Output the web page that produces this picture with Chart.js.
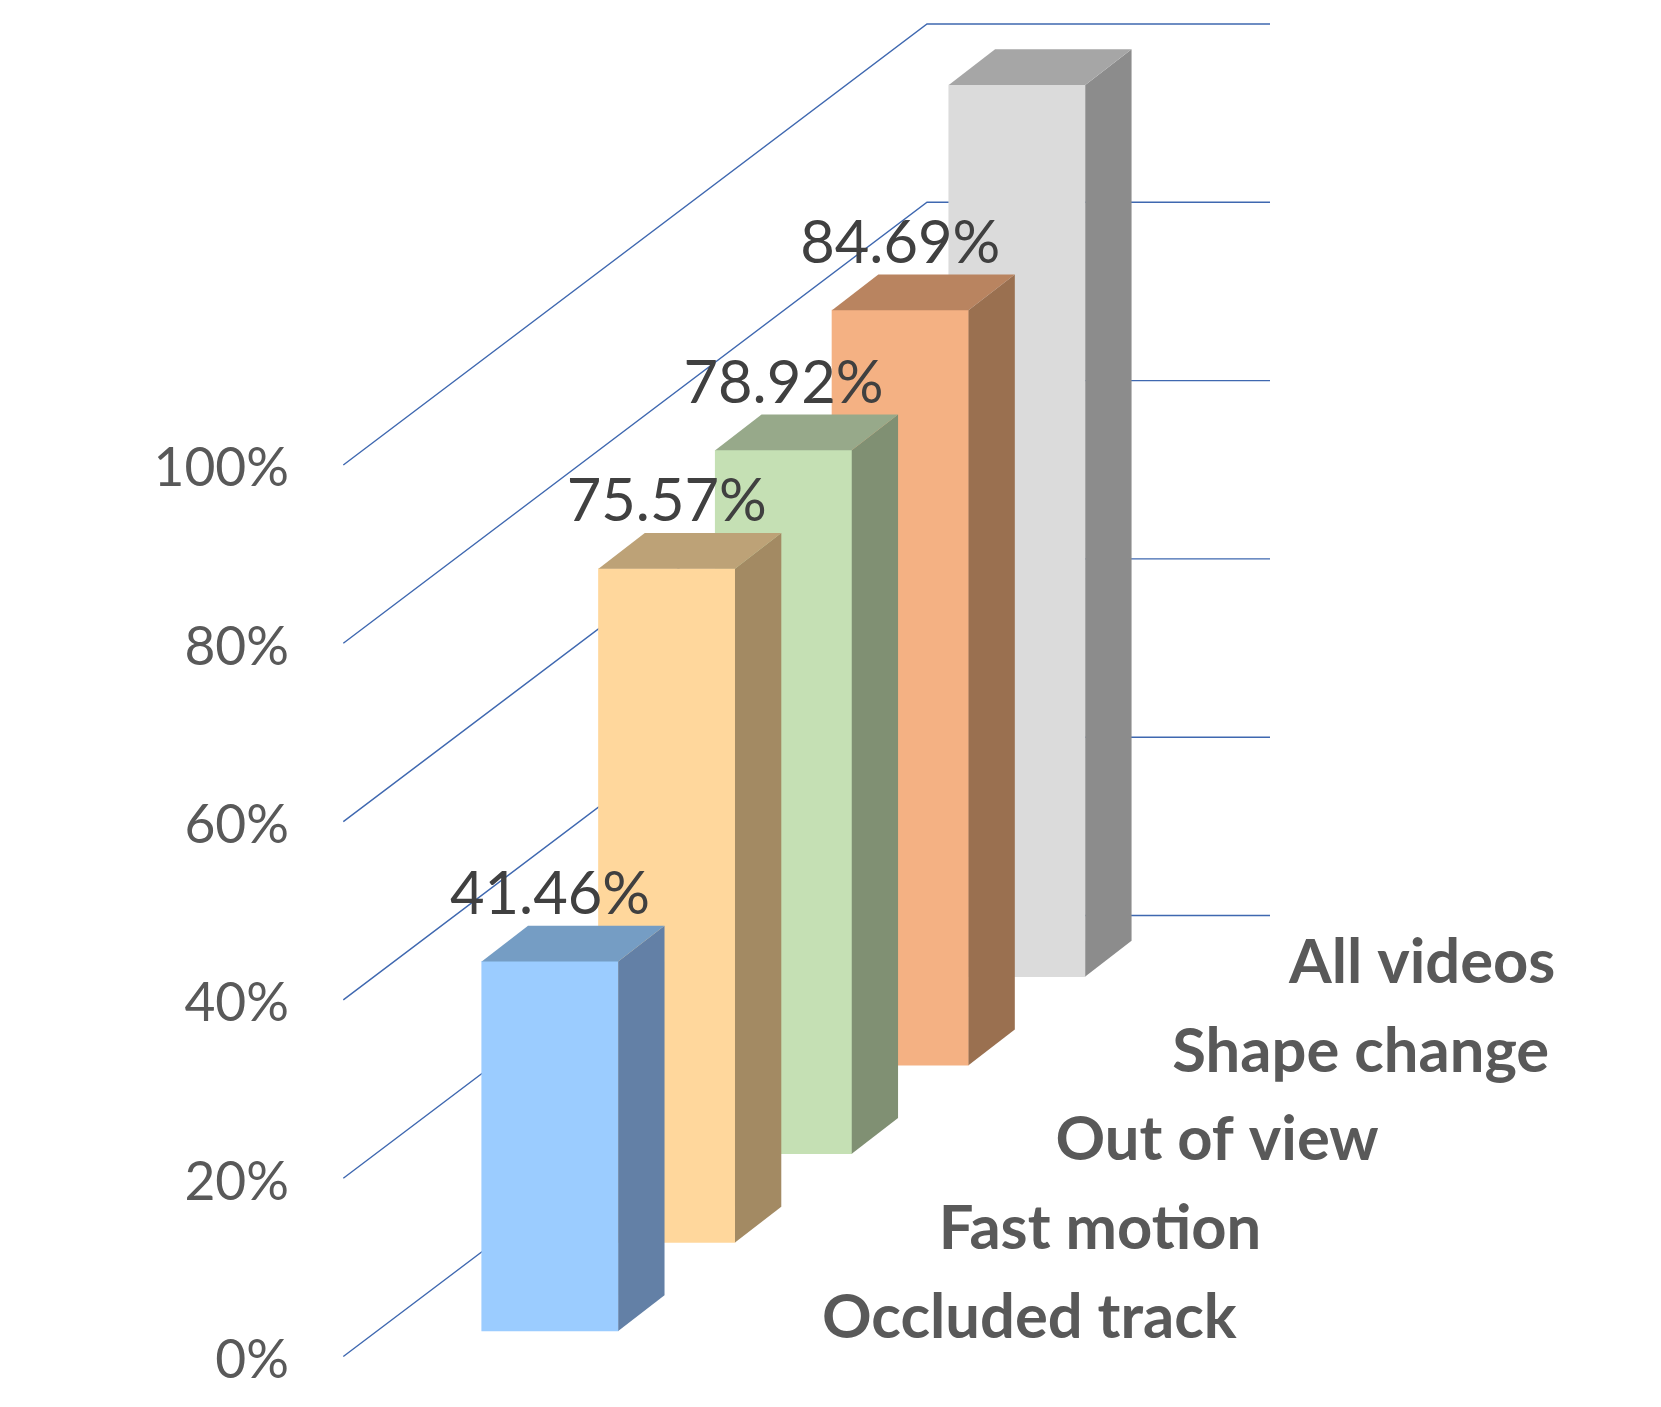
<!DOCTYPE html>
<html>
<head>
<meta charset="utf-8">
<title>3D bars</title>
<script src="https://cdn.jsdelivr.net/npm/chart.js@4/dist/chart.umd.js"></script>
<style>
  html, body { margin: 0; padding: 0; background: #fff; }
  canvas { display: block; }
</style>
</head>
<body>
<canvas id="chart" width="1661" height="1407"></canvas>
<script>
const categories = ["Occluded track", "Fast motion", "Out of view", "Shape change", "All videos"];
const values = [41.46, 75.57, 78.92, 84.69, 100];
const valueLabels = ["41.46%", "75.57%", "78.92%", "84.69%", null];
const yTicks = [0, 20, 40, 60, 80, 100];

const frontColors = ["#9BCCFF", "#FFD79C", "#C5E0B4", "#F4B183", "#DBDBDB"];
const topColors = ["#759DC4", "#BDA277", "#97A98A", "#B98460", "#A6A6A6"];
const sideColors = ["#6380A6", "#A38A63", "#809073", "#9A7050", "#8C8C8C"];

// fake perspective: every bar stands further back than the one before it
const BASE_OFFSET = 2.86;
const BASE_STEP = 9.94;
const DEPTH_X = 46.3;
const DEPTH_Y = 35.7;
const WALL_X = 583.7;
const WALL_Y = 441;
const GRID_LEFT = 343.3;
const GRID_RIGHT = 1270;
const TICK_SHIFT = 4.2;

const bars3d = {
  id: "bars3d",
  // tick labels sit a little below their gridline start in the original
  afterLayout(chart) {
    const y = chart.scales.y;
    const drawLabels = y.drawLabels;
    y.drawLabels = function (area) {
      this.ctx.save();
      this.ctx.translate(0, TICK_SHIFT);
      drawLabels.call(this, area);
      this.ctx.restore();
    };
  },
  // floor-to-back-wall gridlines, behind all the bars
  beforeDatasetsDraw(chart) {
    const { ctx } = chart;
    const y = chart.scales.y;
    ctx.save();
    ctx.strokeStyle = "#3F68B0";
    ctx.lineWidth = 1.4;
    yTicks.forEach((t) => {
      const py = y.getPixelForValue(t);
      ctx.beginPath();
      ctx.moveTo(GRID_LEFT, py);
      ctx.lineTo(GRID_LEFT + WALL_X, py - WALL_Y);
      ctx.lineTo(GRID_RIGHT, py - WALL_Y);
      ctx.stroke();
    });
    ctx.restore();
  },
  // side and top faces, taken from the bar the library just drew
  afterDatasetDraw(chart, args) {
    const { ctx } = chart;
    const i = args.index;
    const bar = chart.getDatasetMeta(i).data[i].getProps(["x", "y", "base", "width"], true);
    const left = bar.x - bar.width / 2;
    const right = bar.x + bar.width / 2;
    ctx.save();
    ctx.fillStyle = sideColors[i];
    ctx.beginPath();
    ctx.moveTo(right, bar.y);
    ctx.lineTo(right + DEPTH_X, bar.y - DEPTH_Y);
    ctx.lineTo(right + DEPTH_X, bar.base - DEPTH_Y);
    ctx.lineTo(right, bar.base);
    ctx.closePath();
    ctx.fill();
    ctx.fillStyle = topColors[i];
    ctx.beginPath();
    ctx.moveTo(left, bar.y);
    ctx.lineTo(left + DEPTH_X, bar.y - DEPTH_Y);
    ctx.lineTo(right + DEPTH_X, bar.y - DEPTH_Y);
    ctx.lineTo(right, bar.y);
    ctx.closePath();
    ctx.fill();
    ctx.restore();
  },
  afterDatasetsDraw(chart) {
    const { ctx } = chart;
    ctx.save();
    categories.forEach((name, i) => {
      const bar = chart.getDatasetMeta(i).data[i].getProps(["x", "y", "base"], true);
      if (valueLabels[i]) {
        ctx.font = '59.6px Lato, "Noto Sans", sans-serif';
        ctx.fillStyle = "#404040";
        ctx.textAlign = "center";
        ctx.textBaseline = "alphabetic";
        ctx.fillText(valueLabels[i], bar.x, bar.y - 47.4);
      }
      ctx.font = 'bold 61.5px Lato, "Noto Sans", sans-serif';
      ctx.fillStyle = "#595959";
      ctx.textAlign = "left";
      ctx.textBaseline = "alphabetic";
      ctx.fillText(name, bar.x + 272, bar.base + 6.5);
    });
    ctx.restore();
  },
};

new Chart(document.getElementById("chart"), {
  type: "bar",
  data: {
    labels: categories,
    // one dataset per bar, the first one is painted last so front bars cover back ones
    datasets: categories.map((name, i) => ({
      label: name,
      data: categories.map((_, j) => {
        if (j !== i) return null;
        const base = BASE_OFFSET + BASE_STEP * i;
        return [base, base + values[i]];
      }),
      backgroundColor: frontColors[i],
      borderWidth: 0,
      barThickness: 136.5,
      grouped: false,
      clip: false,
    })),
  },
  plugins: [bars3d],
  options: {
    responsive: false,
    animation: false,
    layout: { padding: { top: 24, bottom: 50.5, left: 0, right: 585.6 } },
    plugins: { legend: { display: false }, tooltip: { enabled: false } },
    scales: {
      x: { display: false },
      y: {
        min: 0,
        max: 149.47,
        // ticks.padding also pads the axis vertically, which would squash the plot
        afterFit: (scale) => {
          scale.width = 491.6;
          scale.paddingTop = 0;
          scale.paddingBottom = 0;
        },
        afterBuildTicks: (scale) => { scale.ticks = yTicks.map((value) => ({ value })); },
        grid: { display: false, drawTicks: false },
        border: { display: false },
        ticks: {
          padding: 202.6,
          color: "#595959",
          font: { family: 'Lato, "Noto Sans", sans-serif', size: 53.3 },
          callback: (v) => `${v}%`,
        },
      },
    },
  },
});
</script>
</body>
</html>
